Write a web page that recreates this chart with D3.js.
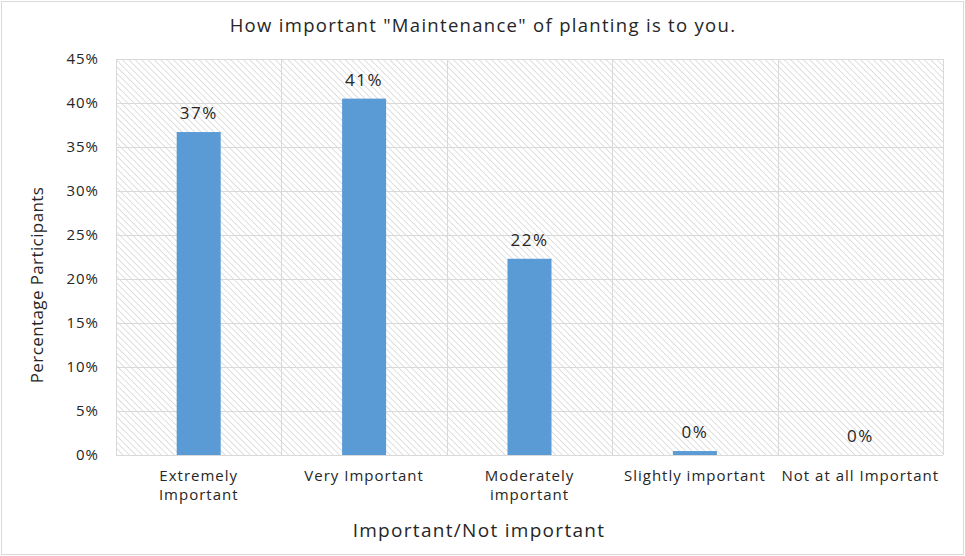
<!DOCTYPE html>
<html>
<head>
<meta charset="utf-8">
<script src="https://cdn.jsdelivr.net/npm/d3@7"></script>
<style>
  body { margin: 0; background: #fff; }
  text { font-family: "Open Sans", "Noto Sans", sans-serif; fill: #262626; }
</style>
</head>
<body>
<div id="chart"></div>
<script>
// responses per importance level (percent of participants)
const categories = ["Extremely Important", "Very Important", "Moderately important", "Slightly important", "Not at all Important"]
const tickLines = [["Extremely", "Important"], ["Very Important"], ["Moderately", "important"], ["Slightly important"], ["Not at all Important"]]
const percents = [36.7, 40.5, 22.3, 0.45, 0]
const yTicks = [0, 5, 10, 15, 20, 25, 30, 35, 40, 45]

const dims = {
    width: 965,
    height: 556,
    margin: { top: 59, right: 22, bottom: 101, left: 116 }
}
dims.boundedWidth = dims.width - dims.margin.left - dims.margin.right
dims.boundedHeight = dims.height - dims.margin.top - dims.margin.bottom

const svg = d3.select("#chart").append("svg")
    .attr("width", dims.width)
    .attr("height", dims.height)

// outer frame
svg.append("rect")
    .attr("x", 1.5).attr("y", 1.5)
    .attr("width", dims.width - 3).attr("height", dims.height - 3)
    .attr("fill", "#fff")
    .attr("stroke", "#d9d9d9")

// diagonal hatch for the plot area
const pattern = svg.append("defs").append("pattern")
    .attr("id", "hatch")
    .attr("patternUnits", "userSpaceOnUse")
    .attr("width", 4.5).attr("height", 4.5)
    .attr("patternTransform", "rotate(45)")
pattern.append("line")
    .attr("x1", 0).attr("y1", 0).attr("x2", 4.5).attr("y2", 0)
    .attr("stroke", "#d2d2d2")
    .attr("stroke-width", 1.4)

const bounds = svg.append("g")
    .attr("transform", `translate(${dims.margin.left},${dims.margin.top})`)

const xScale = d3.scaleBand()
    .domain(categories)
    .range([0, dims.boundedWidth])
    .paddingInner(0.734)
    .paddingOuter(0.367)

const yScale = d3.scaleLinear()
    .domain([0, 45])
    .range([dims.boundedHeight, 0])

bounds.append("rect")
    .attr("width", dims.boundedWidth)
    .attr("height", dims.boundedHeight)
    .attr("fill", "url(#hatch)")

// horizontal gridlines
bounds.append("g")
    .selectAll("line")
    .data(yTicks)
    .join("line")
    .attr("x1", 0).attr("x2", dims.boundedWidth)
    .attr("y1", d => Math.round(yScale(d)) + 0.5)
    .attr("y2", d => Math.round(yScale(d)) + 0.5)
    .attr("stroke", "#d9d9d9")
    .attr("stroke-width", 1)

// vertical separators between categories
const step = xScale.step()
bounds.append("g")
    .selectAll("line")
    .data(d3.range(categories.length + 1))
    .join("line")
    .attr("x1", i => Math.round(i * step) + 0.5)
    .attr("x2", i => Math.round(i * step) + 0.5)
    .attr("y1", 0).attr("y2", dims.boundedHeight)
    .attr("stroke", "#d9d9d9")

// y axis labels
const yAxis = bounds.append("g")
    .call(d3.axisLeft(yScale).tickValues(yTicks).tickFormat(d => d + "%").tickSize(0).tickPadding(17))
yAxis.select(".domain").remove()
yAxis.selectAll("text")
    .style("font-size", "15px")
    .style("letter-spacing", "1px")
    .style("font-family", null)
    .attr("fill", null)

// bars
bounds.selectAll(".bar")
    .data(percents)
    .join("rect")
    .attr("class", "bar")
    .attr("x", (d, i) => xScale(categories[i]))
    .attr("width", xScale.bandwidth())
    .attr("y", d => yScale(d))
    .attr("height", d => dims.boundedHeight - yScale(d))
    .attr("fill", "#5b9bd5")

// value labels
bounds.selectAll(".val")
    .data(percents)
    .join("text")
    .attr("class", "val")
    .attr("x", (d, i) => xScale(categories[i]) + xScale.bandwidth() / 2)
    .attr("y", d => yScale(d) - 13)
    .attr("text-anchor", "middle")
    .style("font-size", "17px")
    .style("letter-spacing", "1.5px")
    .text(d => Math.round(d) + "%")

// category labels
const xLabels = bounds.selectAll(".cat")
    .data(tickLines)
    .join("text")
    .attr("class", "cat")
    .attr("x", (d, i) => xScale(categories[i]) + xScale.bandwidth() / 2)
    .attr("y", dims.boundedHeight + 26)
    .attr("text-anchor", "middle")
    .style("font-size", "15px")
    .style("letter-spacing", "1px")
xLabels.selectAll("tspan")
    .data(d => d)
    .join("tspan")
    .attr("x", function () { return this.parentNode.getAttribute("x") })
    .attr("dy", (d, i) => i === 0 ? 0 : 19)
    .text(d => d)

// titles
svg.append("text")
    .attr("x", 483).attr("y", 32)
    .attr("text-anchor", "middle")
    .style("font-size", "18.5px")
    .style("letter-spacing", "1.3px")
    .text('How important "Maintenance" of planting is to you.')

svg.append("text")
    .attr("x", 479).attr("y", 537)
    .attr("text-anchor", "middle")
    .style("font-size", "19px")
    .style("letter-spacing", "1.3px")
    .text("Important/Not important")

svg.append("text")
    .attr("transform", "translate(43,285) rotate(-90)")
    .attr("text-anchor", "middle")
    .style("font-size", "17px")
    .style("letter-spacing", "0.4px")
    .text("Percentage Participants")
</script>
</body>
</html>
